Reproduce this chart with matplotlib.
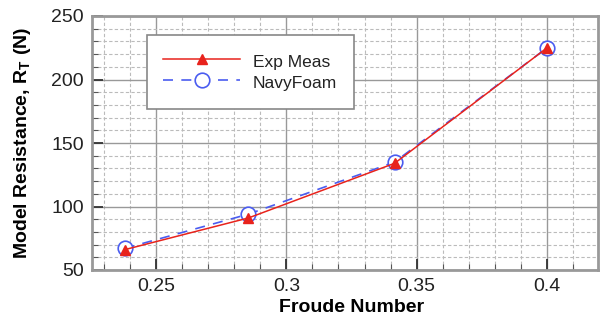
import numpy as np
import matplotlib.pyplot as plt
from matplotlib.ticker import MultipleLocator

plt.rcParams['font.family'] = ['Liberation Sans', 'DejaVu Sans']

# data
froude = [0.238, 0.2855, 0.3415, 0.400]
exp_meas = [66, 91, 134, 225]
navyfoam = [67, 94, 135, 225]

fig = plt.figure(figsize=(6.01, 3.21), dpi=100)
ax = fig.add_axes([92 / 601, 1 - 270 / 321, (598 - 92) / 601, (270 - 16) / 321])

ax.plot(froude, exp_meas, color='#e8231c', lw=1.1, marker='^', ms=7.5,
        mfc='#e8231c', mec='#e8231c', label='Exp Meas', zorder=4)
ax.plot(froude, navyfoam, color='#4a5cf0', lw=1.2, ls=(0, (6, 5)), marker='o', ms=10.5,
        mfc='white', mec='#4a5cf0', mew=1.2, label='NavyFoam', zorder=3)

ax.set_xlim(0.2255, 0.4195)
ax.set_ylim(50, 250)
ax.xaxis.set_major_locator(MultipleLocator(0.05))
ax.xaxis.set_minor_locator(MultipleLocator(0.01))
ax.yaxis.set_major_locator(MultipleLocator(50))
ax.yaxis.set_minor_locator(MultipleLocator(10))
ax.set_xticks([0.25, 0.3, 0.35, 0.4])
ax.set_xticklabels(['0.25', '0.3', '0.35', '0.4'])

ax.grid(which='major', color='#999999', lw=1.0, ls='-')
ax.grid(which='minor', color='#bbbbbb', lw=0.8, ls=(0, (3, 2)))
ax.set_axisbelow(True)
ax.tick_params(which='both', direction='in', top=False, right=False)
ax.tick_params(which='major', length=8, width=1.3, labelsize=14, pad=6, colors='#333333')
ax.tick_params(which='minor', length=4, width=0.8, colors='#555555')
ax.tick_params(axis='both', labelcolor='#222222')
for s in ax.spines.values():
    s.set_color('#999999')
    s.set_linewidth(2)

ax.set_xlabel('Froude Number', fontsize=14, fontweight='bold', labelpad=3)
ax.xaxis.label.set_x(0.512)
ax.set_ylabel('Model Resistance, R$_\\mathregular{T}$ (N)', fontsize=14, fontweight='bold', labelpad=13)

leg = ax.legend(loc='upper left', bbox_to_anchor=((147 - 92) / 506, 1 - (35 - 16) / 254),
                fontsize=12.5, fancybox=False, framealpha=1, edgecolor='#888888',
                handlelength=4.4, handletextpad=0.75, handleheight=1.4,
                borderpad=0.95, labelspacing=0.05, borderaxespad=0)
leg.get_frame().set_linewidth(1.2)
for t in leg.get_texts():
    t.set_color('#222222')

fig.savefig('out.png', dpi=100)
